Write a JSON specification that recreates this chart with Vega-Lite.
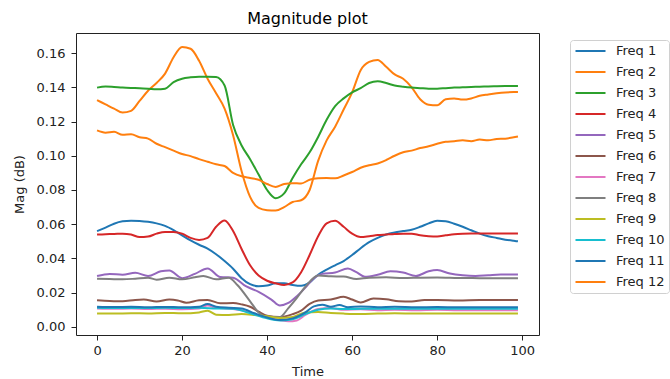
{
  "$schema": "https://vega.github.io/schema/vega-lite/v6.json",
  "autosize": "none",
  "width": 463,
  "height": 302,
  "padding": {"left": 76, "top": 33, "right": 131, "bottom": 44},
  "background": "white",
  "title": {"text": "Magnitude plot", "fontSize": 16, "font": "DejaVu Sans", "fontWeight": "normal", "color": "#000", "offset": 6, "anchor": "middle"},
  "config": {
    "font": "DejaVu Sans",
    "view": {"stroke": "#222", "strokeWidth": 1},
    "axis": {"grid": false, "domain": false, "tickColor": "#222", "tickSize": 5, "labelFontSize": 13, "labelColor": "#222", "titleFontSize": 13, "titleColor": "#222", "titleFontWeight": "normal", "labelFont": "DejaVu Sans", "titleFont": "DejaVu Sans"}
  },
  "data": {"values": [
    {"t":0,"s":"Freq 1","v":0.0560},{"t":2,"s":"Freq 1","v":0.0580},{"t":4,"s":"Freq 1","v":0.0603},{"t":6,"s":"Freq 1","v":0.0617},{"t":8,"s":"Freq 1","v":0.0621},{"t":10,"s":"Freq 1","v":0.0619},{"t":12,"s":"Freq 1","v":0.0614},{"t":14,"s":"Freq 1","v":0.0605},{"t":16,"s":"Freq 1","v":0.0590},{"t":18,"s":"Freq 1","v":0.0565},{"t":20,"s":"Freq 1","v":0.0535},{"t":22,"s":"Freq 1","v":0.0505},{"t":24,"s":"Freq 1","v":0.0480},{"t":26,"s":"Freq 1","v":0.0458},{"t":28,"s":"Freq 1","v":0.0425},{"t":30,"s":"Freq 1","v":0.0385},{"t":32,"s":"Freq 1","v":0.0340},{"t":34,"s":"Freq 1","v":0.0285},{"t":36,"s":"Freq 1","v":0.0250},{"t":38,"s":"Freq 1","v":0.0238},{"t":40,"s":"Freq 1","v":0.0242},{"t":42,"s":"Freq 1","v":0.0255},{"t":44,"s":"Freq 1","v":0.0255},{"t":46,"s":"Freq 1","v":0.0245},{"t":48,"s":"Freq 1","v":0.0240},{"t":50,"s":"Freq 1","v":0.0260},{"t":52,"s":"Freq 1","v":0.0305},{"t":54,"s":"Freq 1","v":0.0335},{"t":56,"s":"Freq 1","v":0.0360},{"t":58,"s":"Freq 1","v":0.0385},{"t":60,"s":"Freq 1","v":0.0420},{"t":62,"s":"Freq 1","v":0.0460},{"t":64,"s":"Freq 1","v":0.0495},{"t":66,"s":"Freq 1","v":0.0520},{"t":68,"s":"Freq 1","v":0.0540},{"t":70,"s":"Freq 1","v":0.0552},{"t":72,"s":"Freq 1","v":0.0560},{"t":74,"s":"Freq 1","v":0.0568},{"t":76,"s":"Freq 1","v":0.0585},{"t":78,"s":"Freq 1","v":0.0605},{"t":80,"s":"Freq 1","v":0.0620},{"t":82,"s":"Freq 1","v":0.0618},{"t":84,"s":"Freq 1","v":0.0603},{"t":86,"s":"Freq 1","v":0.0585},{"t":88,"s":"Freq 1","v":0.0565},{"t":90,"s":"Freq 1","v":0.0545},{"t":92,"s":"Freq 1","v":0.0530},{"t":94,"s":"Freq 1","v":0.0520},{"t":96,"s":"Freq 1","v":0.0510},{"t":98,"s":"Freq 1","v":0.0503},{"t":99,"s":"Freq 1","v":0.0500},

    {"t":0,"s":"Freq 2","v":0.1325},{"t":2,"s":"Freq 2","v":0.1300},{"t":4,"s":"Freq 2","v":0.1275},{"t":6,"s":"Freq 2","v":0.1252},{"t":8,"s":"Freq 2","v":0.1262},{"t":10,"s":"Freq 2","v":0.1320},{"t":12,"s":"Freq 2","v":0.1380},{"t":14,"s":"Freq 2","v":0.1425},{"t":16,"s":"Freq 2","v":0.1480},{"t":18,"s":"Freq 2","v":0.1575},{"t":20,"s":"Freq 2","v":0.1635},{"t":22,"s":"Freq 2","v":0.1625},{"t":24,"s":"Freq 2","v":0.1555},{"t":26,"s":"Freq 2","v":0.1450},{"t":28,"s":"Freq 2","v":0.1365},{"t":30,"s":"Freq 2","v":0.1275},{"t":32,"s":"Freq 2","v":0.1120},{"t":34,"s":"Freq 2","v":0.0910},{"t":36,"s":"Freq 2","v":0.0760},{"t":38,"s":"Freq 2","v":0.0695},{"t":40,"s":"Freq 2","v":0.0682},{"t":42,"s":"Freq 2","v":0.0680},{"t":44,"s":"Freq 2","v":0.0700},{"t":46,"s":"Freq 2","v":0.0730},{"t":48,"s":"Freq 2","v":0.0740},{"t":50,"s":"Freq 2","v":0.0800},{"t":52,"s":"Freq 2","v":0.0970},{"t":54,"s":"Freq 2","v":0.1090},{"t":56,"s":"Freq 2","v":0.1170},{"t":58,"s":"Freq 2","v":0.1270},{"t":60,"s":"Freq 2","v":0.1370},{"t":62,"s":"Freq 2","v":0.1500},{"t":64,"s":"Freq 2","v":0.1548},{"t":66,"s":"Freq 2","v":0.1560},{"t":68,"s":"Freq 2","v":0.1520},{"t":70,"s":"Freq 2","v":0.1475},{"t":72,"s":"Freq 2","v":0.1450},{"t":74,"s":"Freq 2","v":0.1400},{"t":76,"s":"Freq 2","v":0.1330},{"t":78,"s":"Freq 2","v":0.1298},{"t":80,"s":"Freq 2","v":0.1295},{"t":82,"s":"Freq 2","v":0.1330},{"t":84,"s":"Freq 2","v":0.1335},{"t":86,"s":"Freq 2","v":0.1328},{"t":88,"s":"Freq 2","v":0.1335},{"t":90,"s":"Freq 2","v":0.1350},{"t":92,"s":"Freq 2","v":0.1358},{"t":94,"s":"Freq 2","v":0.1365},{"t":96,"s":"Freq 2","v":0.1370},{"t":98,"s":"Freq 2","v":0.1372},{"t":99,"s":"Freq 2","v":0.1372},

    {"t":0,"s":"Freq 3","v":0.1398},{"t":2,"s":"Freq 3","v":0.1405},{"t":4,"s":"Freq 3","v":0.1402},{"t":6,"s":"Freq 3","v":0.1398},{"t":8,"s":"Freq 3","v":0.1396},{"t":10,"s":"Freq 3","v":0.1395},{"t":12,"s":"Freq 3","v":0.1392},{"t":14,"s":"Freq 3","v":0.1388},{"t":16,"s":"Freq 3","v":0.1392},{"t":18,"s":"Freq 3","v":0.1430},{"t":20,"s":"Freq 3","v":0.1450},{"t":22,"s":"Freq 3","v":0.1458},{"t":24,"s":"Freq 3","v":0.1462},{"t":26,"s":"Freq 3","v":0.1462},{"t":28,"s":"Freq 3","v":0.1460},{"t":30,"s":"Freq 3","v":0.1410},{"t":32,"s":"Freq 3","v":0.1180},{"t":34,"s":"Freq 3","v":0.1060},{"t":36,"s":"Freq 3","v":0.0980},{"t":38,"s":"Freq 3","v":0.0890},{"t":40,"s":"Freq 3","v":0.0800},{"t":42,"s":"Freq 3","v":0.0752},{"t":44,"s":"Freq 3","v":0.0780},{"t":46,"s":"Freq 3","v":0.0870},{"t":48,"s":"Freq 3","v":0.0950},{"t":50,"s":"Freq 3","v":0.1020},{"t":52,"s":"Freq 3","v":0.1110},{"t":54,"s":"Freq 3","v":0.1210},{"t":56,"s":"Freq 3","v":0.1290},{"t":58,"s":"Freq 3","v":0.1335},{"t":60,"s":"Freq 3","v":0.1370},{"t":62,"s":"Freq 3","v":0.1395},{"t":64,"s":"Freq 3","v":0.1425},{"t":66,"s":"Freq 3","v":0.1435},{"t":68,"s":"Freq 3","v":0.1425},{"t":70,"s":"Freq 3","v":0.1410},{"t":72,"s":"Freq 3","v":0.1403},{"t":74,"s":"Freq 3","v":0.1398},{"t":76,"s":"Freq 3","v":0.1395},{"t":78,"s":"Freq 3","v":0.1392},{"t":80,"s":"Freq 3","v":0.1392},{"t":82,"s":"Freq 3","v":0.1395},{"t":84,"s":"Freq 3","v":0.1398},{"t":86,"s":"Freq 3","v":0.1400},{"t":88,"s":"Freq 3","v":0.1402},{"t":90,"s":"Freq 3","v":0.1403},{"t":92,"s":"Freq 3","v":0.1405},{"t":94,"s":"Freq 3","v":0.1406},{"t":96,"s":"Freq 3","v":0.1407},{"t":98,"s":"Freq 3","v":0.1408},{"t":99,"s":"Freq 3","v":0.1408},

    {"t":0,"s":"Freq 4","v":0.0540},{"t":2,"s":"Freq 4","v":0.0542},{"t":4,"s":"Freq 4","v":0.0543},{"t":6,"s":"Freq 4","v":0.0545},{"t":8,"s":"Freq 4","v":0.0540},{"t":10,"s":"Freq 4","v":0.0525},{"t":12,"s":"Freq 4","v":0.0528},{"t":14,"s":"Freq 4","v":0.0545},{"t":16,"s":"Freq 4","v":0.0555},{"t":18,"s":"Freq 4","v":0.0555},{"t":20,"s":"Freq 4","v":0.0545},{"t":22,"s":"Freq 4","v":0.0520},{"t":24,"s":"Freq 4","v":0.0508},{"t":26,"s":"Freq 4","v":0.0520},{"t":28,"s":"Freq 4","v":0.0585},{"t":30,"s":"Freq 4","v":0.0622},{"t":32,"s":"Freq 4","v":0.0560},{"t":34,"s":"Freq 4","v":0.0455},{"t":36,"s":"Freq 4","v":0.0360},{"t":38,"s":"Freq 4","v":0.0300},{"t":40,"s":"Freq 4","v":0.0270},{"t":42,"s":"Freq 4","v":0.0255},{"t":44,"s":"Freq 4","v":0.0245},{"t":46,"s":"Freq 4","v":0.0260},{"t":48,"s":"Freq 4","v":0.0320},{"t":50,"s":"Freq 4","v":0.0420},{"t":52,"s":"Freq 4","v":0.0530},{"t":54,"s":"Freq 4","v":0.0605},{"t":56,"s":"Freq 4","v":0.0620},{"t":58,"s":"Freq 4","v":0.0585},{"t":60,"s":"Freq 4","v":0.0545},{"t":62,"s":"Freq 4","v":0.0525},{"t":64,"s":"Freq 4","v":0.0530},{"t":66,"s":"Freq 4","v":0.0537},{"t":68,"s":"Freq 4","v":0.0540},{"t":70,"s":"Freq 4","v":0.0543},{"t":72,"s":"Freq 4","v":0.0545},{"t":74,"s":"Freq 4","v":0.0545},{"t":76,"s":"Freq 4","v":0.0535},{"t":78,"s":"Freq 4","v":0.0530},{"t":80,"s":"Freq 4","v":0.0528},{"t":82,"s":"Freq 4","v":0.0535},{"t":84,"s":"Freq 4","v":0.0542},{"t":86,"s":"Freq 4","v":0.0545},{"t":88,"s":"Freq 4","v":0.0546},{"t":92,"s":"Freq 4","v":0.0546},{"t":96,"s":"Freq 4","v":0.0546},{"t":99,"s":"Freq 4","v":0.0546},

    {"t":0,"s":"Freq 5","v":0.0298},{"t":3,"s":"Freq 5","v":0.0310},{"t":6,"s":"Freq 5","v":0.0305},{"t":9,"s":"Freq 5","v":0.0316},{"t":12,"s":"Freq 5","v":0.0298},{"t":15,"s":"Freq 5","v":0.0325},{"t":17,"s":"Freq 5","v":0.0330},{"t":20,"s":"Freq 5","v":0.0285},{"t":23,"s":"Freq 5","v":0.0310},{"t":26,"s":"Freq 5","v":0.0342},{"t":29,"s":"Freq 5","v":0.0292},{"t":32,"s":"Freq 5","v":0.0288},{"t":35,"s":"Freq 5","v":0.0238},{"t":38,"s":"Freq 5","v":0.0205},{"t":41,"s":"Freq 5","v":0.0160},{"t":43,"s":"Freq 5","v":0.0125},{"t":45,"s":"Freq 5","v":0.0140},{"t":47,"s":"Freq 5","v":0.0180},{"t":49,"s":"Freq 5","v":0.0230},{"t":51,"s":"Freq 5","v":0.0285},{"t":53,"s":"Freq 5","v":0.0310},{"t":56,"s":"Freq 5","v":0.0318},{"t":59,"s":"Freq 5","v":0.0342},{"t":61,"s":"Freq 5","v":0.0320},{"t":63,"s":"Freq 5","v":0.0293},{"t":66,"s":"Freq 5","v":0.0305},{"t":69,"s":"Freq 5","v":0.0325},{"t":72,"s":"Freq 5","v":0.0318},{"t":75,"s":"Freq 5","v":0.0298},{"t":78,"s":"Freq 5","v":0.0325},{"t":80,"s":"Freq 5","v":0.0332},{"t":83,"s":"Freq 5","v":0.0312},{"t":86,"s":"Freq 5","v":0.0302},{"t":89,"s":"Freq 5","v":0.0298},{"t":92,"s":"Freq 5","v":0.0302},{"t":95,"s":"Freq 5","v":0.0306},{"t":99,"s":"Freq 5","v":0.0306},

    {"t":0,"s":"Freq 6","v":0.0156},{"t":3,"s":"Freq 6","v":0.0152},{"t":6,"s":"Freq 6","v":0.0150},{"t":9,"s":"Freq 6","v":0.0158},{"t":11,"s":"Freq 6","v":0.0160},{"t":14,"s":"Freq 6","v":0.0148},{"t":17,"s":"Freq 6","v":0.0160},{"t":19,"s":"Freq 6","v":0.0155},{"t":21,"s":"Freq 6","v":0.0142},{"t":24,"s":"Freq 6","v":0.0156},{"t":26,"s":"Freq 6","v":0.0158},{"t":29,"s":"Freq 6","v":0.0138},{"t":32,"s":"Freq 6","v":0.0140},{"t":34,"s":"Freq 6","v":0.0132},{"t":36,"s":"Freq 6","v":0.0118},{"t":38,"s":"Freq 6","v":0.0090},{"t":40,"s":"Freq 6","v":0.0065},{"t":43,"s":"Freq 6","v":0.0058},{"t":46,"s":"Freq 6","v":0.0075},{"t":48,"s":"Freq 6","v":0.0095},{"t":50,"s":"Freq 6","v":0.0135},{"t":52,"s":"Freq 6","v":0.0155},{"t":55,"s":"Freq 6","v":0.0160},{"t":58,"s":"Freq 6","v":0.0176},{"t":60,"s":"Freq 6","v":0.0160},{"t":62,"s":"Freq 6","v":0.0143},{"t":65,"s":"Freq 6","v":0.0166},{"t":68,"s":"Freq 6","v":0.0162},{"t":71,"s":"Freq 6","v":0.0150},{"t":74,"s":"Freq 6","v":0.0148},{"t":77,"s":"Freq 6","v":0.0157},{"t":80,"s":"Freq 6","v":0.0157},{"t":85,"s":"Freq 6","v":0.0155},{"t":90,"s":"Freq 6","v":0.0157},{"t":95,"s":"Freq 6","v":0.0157},{"t":99,"s":"Freq 6","v":0.0157},

    {"t":0,"s":"Freq 7","v":0.0108},{"t":4,"s":"Freq 7","v":0.0106},{"t":8,"s":"Freq 7","v":0.0108},{"t":12,"s":"Freq 7","v":0.0105},{"t":16,"s":"Freq 7","v":0.0107},{"t":20,"s":"Freq 7","v":0.0104},{"t":24,"s":"Freq 7","v":0.0108},{"t":26,"s":"Freq 7","v":0.0125},{"t":28,"s":"Freq 7","v":0.0112},{"t":32,"s":"Freq 7","v":0.0105},{"t":36,"s":"Freq 7","v":0.0085},{"t":40,"s":"Freq 7","v":0.0055},{"t":43,"s":"Freq 7","v":0.0040},{"t":45,"s":"Freq 7","v":0.0033},{"t":47,"s":"Freq 7","v":0.0038},{"t":49,"s":"Freq 7","v":0.0070},{"t":52,"s":"Freq 7","v":0.0105},{"t":55,"s":"Freq 7","v":0.0110},{"t":58,"s":"Freq 7","v":0.0100},{"t":62,"s":"Freq 7","v":0.0103},{"t":66,"s":"Freq 7","v":0.0098},{"t":70,"s":"Freq 7","v":0.0100},{"t":75,"s":"Freq 7","v":0.0098},{"t":80,"s":"Freq 7","v":0.0100},{"t":85,"s":"Freq 7","v":0.0098},{"t":90,"s":"Freq 7","v":0.0098},{"t":95,"s":"Freq 7","v":0.0098},{"t":99,"s":"Freq 7","v":0.0098},

    {"t":0,"s":"Freq 8","v":0.0282},{"t":3,"s":"Freq 8","v":0.0280},{"t":6,"s":"Freq 8","v":0.0278},{"t":9,"s":"Freq 8","v":0.0282},{"t":12,"s":"Freq 8","v":0.0288},{"t":14,"s":"Freq 8","v":0.0276},{"t":17,"s":"Freq 8","v":0.0288},{"t":20,"s":"Freq 8","v":0.0278},{"t":23,"s":"Freq 8","v":0.0290},{"t":25,"s":"Freq 8","v":0.0298},{"t":28,"s":"Freq 8","v":0.0278},{"t":31,"s":"Freq 8","v":0.0288},{"t":33,"s":"Freq 8","v":0.0245},{"t":36,"s":"Freq 8","v":0.0150},{"t":38,"s":"Freq 8","v":0.0085},{"t":40,"s":"Freq 8","v":0.0060},{"t":43,"s":"Freq 8","v":0.0058},{"t":45,"s":"Freq 8","v":0.0110},{"t":47,"s":"Freq 8","v":0.0170},{"t":49,"s":"Freq 8","v":0.0235},{"t":52,"s":"Freq 8","v":0.0300},{"t":55,"s":"Freq 8","v":0.0296},{"t":58,"s":"Freq 8","v":0.0294},{"t":61,"s":"Freq 8","v":0.0280},{"t":64,"s":"Freq 8","v":0.0288},{"t":68,"s":"Freq 8","v":0.0290},{"t":72,"s":"Freq 8","v":0.0286},{"t":76,"s":"Freq 8","v":0.0288},{"t":80,"s":"Freq 8","v":0.0289},{"t":85,"s":"Freq 8","v":0.0286},{"t":90,"s":"Freq 8","v":0.0285},{"t":95,"s":"Freq 8","v":0.0284},{"t":99,"s":"Freq 8","v":0.0284},

    {"t":0,"s":"Freq 9","v":0.0078},{"t":4,"s":"Freq 9","v":0.0078},{"t":8,"s":"Freq 9","v":0.0080},{"t":12,"s":"Freq 9","v":0.0079},{"t":16,"s":"Freq 9","v":0.0082},{"t":20,"s":"Freq 9","v":0.0080},{"t":24,"s":"Freq 9","v":0.0085},{"t":26,"s":"Freq 9","v":0.0095},{"t":28,"s":"Freq 9","v":0.0072},{"t":31,"s":"Freq 9","v":0.0070},{"t":34,"s":"Freq 9","v":0.0075},{"t":37,"s":"Freq 9","v":0.0070},{"t":40,"s":"Freq 9","v":0.0062},{"t":43,"s":"Freq 9","v":0.0052},{"t":46,"s":"Freq 9","v":0.0058},{"t":49,"s":"Freq 9","v":0.0085},{"t":52,"s":"Freq 9","v":0.0088},{"t":55,"s":"Freq 9","v":0.0082},{"t":58,"s":"Freq 9","v":0.0078},{"t":62,"s":"Freq 9","v":0.0075},{"t":66,"s":"Freq 9","v":0.0078},{"t":70,"s":"Freq 9","v":0.0080},{"t":75,"s":"Freq 9","v":0.0078},{"t":80,"s":"Freq 9","v":0.0079},{"t":85,"s":"Freq 9","v":0.0078},{"t":90,"s":"Freq 9","v":0.0078},{"t":95,"s":"Freq 9","v":0.0078},{"t":99,"s":"Freq 9","v":0.0078},

    {"t":0,"s":"Freq 10","v":0.0112},{"t":4,"s":"Freq 10","v":0.0110},{"t":8,"s":"Freq 10","v":0.0111},{"t":12,"s":"Freq 10","v":0.0110},{"t":16,"s":"Freq 10","v":0.0112},{"t":20,"s":"Freq 10","v":0.0110},{"t":24,"s":"Freq 10","v":0.0112},{"t":28,"s":"Freq 10","v":0.0108},{"t":32,"s":"Freq 10","v":0.0106},{"t":36,"s":"Freq 10","v":0.0080},{"t":40,"s":"Freq 10","v":0.0050},{"t":43,"s":"Freq 10","v":0.0038},{"t":46,"s":"Freq 10","v":0.0045},{"t":49,"s":"Freq 10","v":0.0075},{"t":52,"s":"Freq 10","v":0.0100},{"t":55,"s":"Freq 10","v":0.0108},{"t":58,"s":"Freq 10","v":0.0105},{"t":62,"s":"Freq 10","v":0.0106},{"t":66,"s":"Freq 10","v":0.0107},{"t":70,"s":"Freq 10","v":0.0106},{"t":75,"s":"Freq 10","v":0.0107},{"t":80,"s":"Freq 10","v":0.0107},{"t":85,"s":"Freq 10","v":0.0107},{"t":90,"s":"Freq 10","v":0.0107},{"t":95,"s":"Freq 10","v":0.0107},{"t":99,"s":"Freq 10","v":0.0107},

    {"t":0,"s":"Freq 11","v":0.0118},{"t":4,"s":"Freq 11","v":0.0116},{"t":8,"s":"Freq 11","v":0.0118},{"t":12,"s":"Freq 11","v":0.0115},{"t":16,"s":"Freq 11","v":0.0117},{"t":20,"s":"Freq 11","v":0.0115},{"t":24,"s":"Freq 11","v":0.0118},{"t":26,"s":"Freq 11","v":0.0134},{"t":28,"s":"Freq 11","v":0.0118},{"t":31,"s":"Freq 11","v":0.0112},{"t":34,"s":"Freq 11","v":0.0108},{"t":37,"s":"Freq 11","v":0.0080},{"t":40,"s":"Freq 11","v":0.0055},{"t":43,"s":"Freq 11","v":0.0040},{"t":46,"s":"Freq 11","v":0.0050},{"t":49,"s":"Freq 11","v":0.0085},{"t":51,"s":"Freq 11","v":0.0120},{"t":53,"s":"Freq 11","v":0.0130},{"t":55,"s":"Freq 11","v":0.0118},{"t":57,"s":"Freq 11","v":0.0128},{"t":59,"s":"Freq 11","v":0.0115},{"t":62,"s":"Freq 11","v":0.0120},{"t":66,"s":"Freq 11","v":0.0115},{"t":70,"s":"Freq 11","v":0.0118},{"t":75,"s":"Freq 11","v":0.0115},{"t":80,"s":"Freq 11","v":0.0116},{"t":85,"s":"Freq 11","v":0.0115},{"t":90,"s":"Freq 11","v":0.0115},{"t":95,"s":"Freq 11","v":0.0115},{"t":99,"s":"Freq 11","v":0.0115},

    {"t":0,"s":"Freq 12","v":0.1148},{"t":2,"s":"Freq 12","v":0.1135},{"t":4,"s":"Freq 12","v":0.1140},{"t":6,"s":"Freq 12","v":0.1122},{"t":8,"s":"Freq 12","v":0.1125},{"t":10,"s":"Freq 12","v":0.1108},{"t":12,"s":"Freq 12","v":0.1100},{"t":14,"s":"Freq 12","v":0.1070},{"t":16,"s":"Freq 12","v":0.1050},{"t":18,"s":"Freq 12","v":0.1030},{"t":20,"s":"Freq 12","v":0.1010},{"t":22,"s":"Freq 12","v":0.0998},{"t":24,"s":"Freq 12","v":0.0980},{"t":26,"s":"Freq 12","v":0.0965},{"t":28,"s":"Freq 12","v":0.0950},{"t":30,"s":"Freq 12","v":0.0940},{"t":32,"s":"Freq 12","v":0.0900},{"t":34,"s":"Freq 12","v":0.0880},{"t":36,"s":"Freq 12","v":0.0870},{"t":38,"s":"Freq 12","v":0.0860},{"t":40,"s":"Freq 12","v":0.0835},{"t":42,"s":"Freq 12","v":0.0818},{"t":44,"s":"Freq 12","v":0.0835},{"t":46,"s":"Freq 12","v":0.0840},{"t":48,"s":"Freq 12","v":0.0838},{"t":50,"s":"Freq 12","v":0.0860},{"t":52,"s":"Freq 12","v":0.0868},{"t":54,"s":"Freq 12","v":0.0870},{"t":56,"s":"Freq 12","v":0.0868},{"t":58,"s":"Freq 12","v":0.0885},{"t":60,"s":"Freq 12","v":0.0905},{"t":62,"s":"Freq 12","v":0.0930},{"t":64,"s":"Freq 12","v":0.0945},{"t":66,"s":"Freq 12","v":0.0955},{"t":68,"s":"Freq 12","v":0.0975},{"t":70,"s":"Freq 12","v":0.1000},{"t":72,"s":"Freq 12","v":0.1020},{"t":74,"s":"Freq 12","v":0.1030},{"t":76,"s":"Freq 12","v":0.1045},{"t":78,"s":"Freq 12","v":0.1055},{"t":80,"s":"Freq 12","v":0.1070},{"t":82,"s":"Freq 12","v":0.1082},{"t":84,"s":"Freq 12","v":0.1085},{"t":86,"s":"Freq 12","v":0.1090},{"t":88,"s":"Freq 12","v":0.1085},{"t":90,"s":"Freq 12","v":0.1095},{"t":92,"s":"Freq 12","v":0.1090},{"t":94,"s":"Freq 12","v":0.1098},{"t":96,"s":"Freq 12","v":0.1100},{"t":98,"s":"Freq 12","v":0.1108},{"t":99,"s":"Freq 12","v":0.1112}
  ]},
  "mark": {"type": "line", "interpolate": "monotone", "strokeWidth": 2, "clip": true},
  "encoding": {
    "x": {"field": "t", "type": "quantitative", "title": "Time",
      "scale": {"domain": [-4.95, 103.95], "nice": false, "zero": false},
      "axis": {"values": [0, 20, 40, 60, 80, 100], "labelPadding": 4, "titlePadding": 8}},
    "y": {"field": "v", "type": "quantitative", "title": "Mag (dB)",
      "scale": {"domain": [-0.0047, 0.1717], "nice": false, "zero": false},
      "axis": {"values": [0, 0.02, 0.04, 0.06, 0.08, 0.1, 0.12, 0.14, 0.16], "format": ".2f", "labelPadding": 6, "titlePadding": 10}},
    "color": {"field": "s", "type": "nominal",
      "scale": {"domain": ["Freq 1","Freq 2","Freq 3","Freq 4","Freq 5","Freq 6","Freq 7","Freq 8","Freq 9","Freq 10","Freq 11","Freq 12"],
        "range": ["#1f77b4","#ff7f0e","#2ca02c","#d62728","#9467bd","#8c564b","#e377c2","#7f7f7f","#bcbd22","#17becf","#1f77b4","#ff7f0e"]},
      "legend": {"title": null, "orient": "none", "legendX": 494, "legendY": 7,
        "symbolType": "stroke", "symbolSize": 900, "symbolStrokeWidth": 2.2, "clipHeight": 14, "rowPadding": 7,
        "labelFontSize": 13, "labelColor": "#222", "labelOffset": 9, "padding": 4,
        "strokeColor": "#d0d0d0", "fillColor": "white", "cornerRadius": 3}}
  }
}
